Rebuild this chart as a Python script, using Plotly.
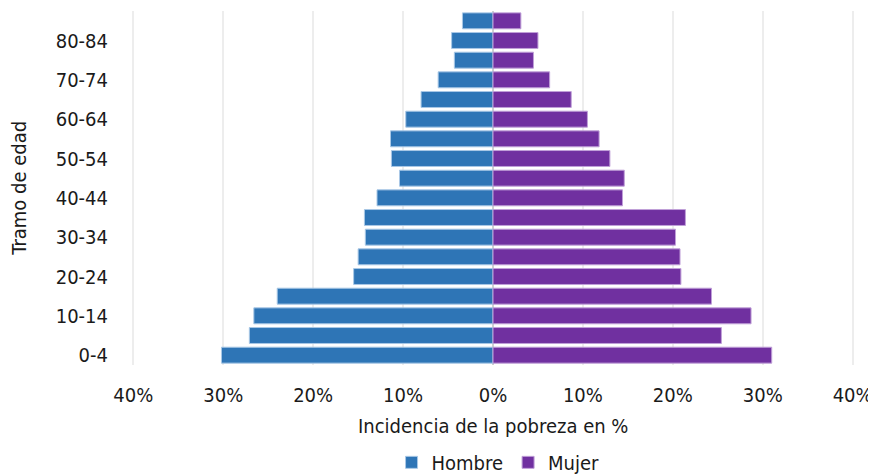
import plotly.graph_objects as go

categories = ["0-4", "5-9", "10-14", "15-19", "20-24", "25-29", "30-34", "35-39",
              "40-44", "45-49", "50-54", "55-59", "60-64", "65-69", "70-74",
              "75-79", "80-84", "85+"]
hombre = [30.2, 27.1, 26.6, 24.0, 15.5, 15.0, 14.2, 14.3, 12.9, 10.4, 11.3, 11.4,
          9.7, 8.0, 6.1, 4.3, 4.6, 3.4]
mujer = [31.0, 25.4, 28.7, 24.3, 20.9, 20.8, 20.3, 21.4, 14.4, 14.6, 13.0, 11.8,
         10.5, 8.7, 6.3, 4.5, 5.0, 3.1]
tick_vals = [-40, -30, -20, -10, 0, 10, 20, 30, 40]
tick_text = ["40%", "30%", "20%", "10%", "0%", "10%", "20%", "30%", "40%"]
y_labels = categories[::2]

FONT = "DejaVu Sans Condensed, Lato, sans-serif"
FS = 20

fig = go.Figure()
fig.add_trace(go.Bar(
    y=categories, x=[-v for v in hombre], orientation="h", name="Hombre",
    marker=dict(color="#2E75B6", line=dict(color="#A9C8E6", width=1)),
))
fig.add_trace(go.Bar(
    y=categories, x=mujer, orientation="h", name="Mujer",
    marker=dict(color="#7030A0", line=dict(color="#C0A0D8", width=1)),
))

fig.update_layout(
    width=876, height=476,
    margin=dict(l=124, r=30, t=2.5, b=118.5, autoexpand=False),
    barmode="relative", bargap=0.19,
    plot_bgcolor="white", paper_bgcolor="white",
    font=dict(family=FONT, size=FS, color="#1a1a1a"),
    xaxis=dict(
        range=[-40.15, 40.15], tickvals=tick_vals, ticktext=tick_text,
        showgrid=True, gridcolor="#EDEDED", gridwidth=1.5,
        zeroline=True, zerolinecolor="#D0D0D0", zerolinewidth=1.5,
        showline=False, ticks="", automargin=False, ticklabelstandoff=16,
        ticklabeloverflow="allow",
    ),
    yaxis=dict(
        categoryorder="array", categoryarray=categories,
        tickvals=y_labels, ticks="", showgrid=False, zeroline=False,
        automargin=False, ticklabelstandoff=23,
    ),
    legend=dict(orientation="h", x=0.507, xanchor="center", y=-0.275,
                yanchor="middle", font=dict(size=FS), traceorder="normal",
                itemwidth=30),
    annotations=[
        dict(text="Incidencia de la pobreza en %", xref="paper", yref="paper",
             x=0.5, y=-0.173, xanchor="center", yanchor="middle",
             showarrow=False, font=dict(size=FS)),
        dict(text="Tramo de edad", xref="paper", yref="paper", textangle=-90,
             x=-0.157, y=0.5, xanchor="center", yanchor="middle",
             showarrow=False, font=dict(size=FS)),
    ],
)

fig.write_html("out.html")
